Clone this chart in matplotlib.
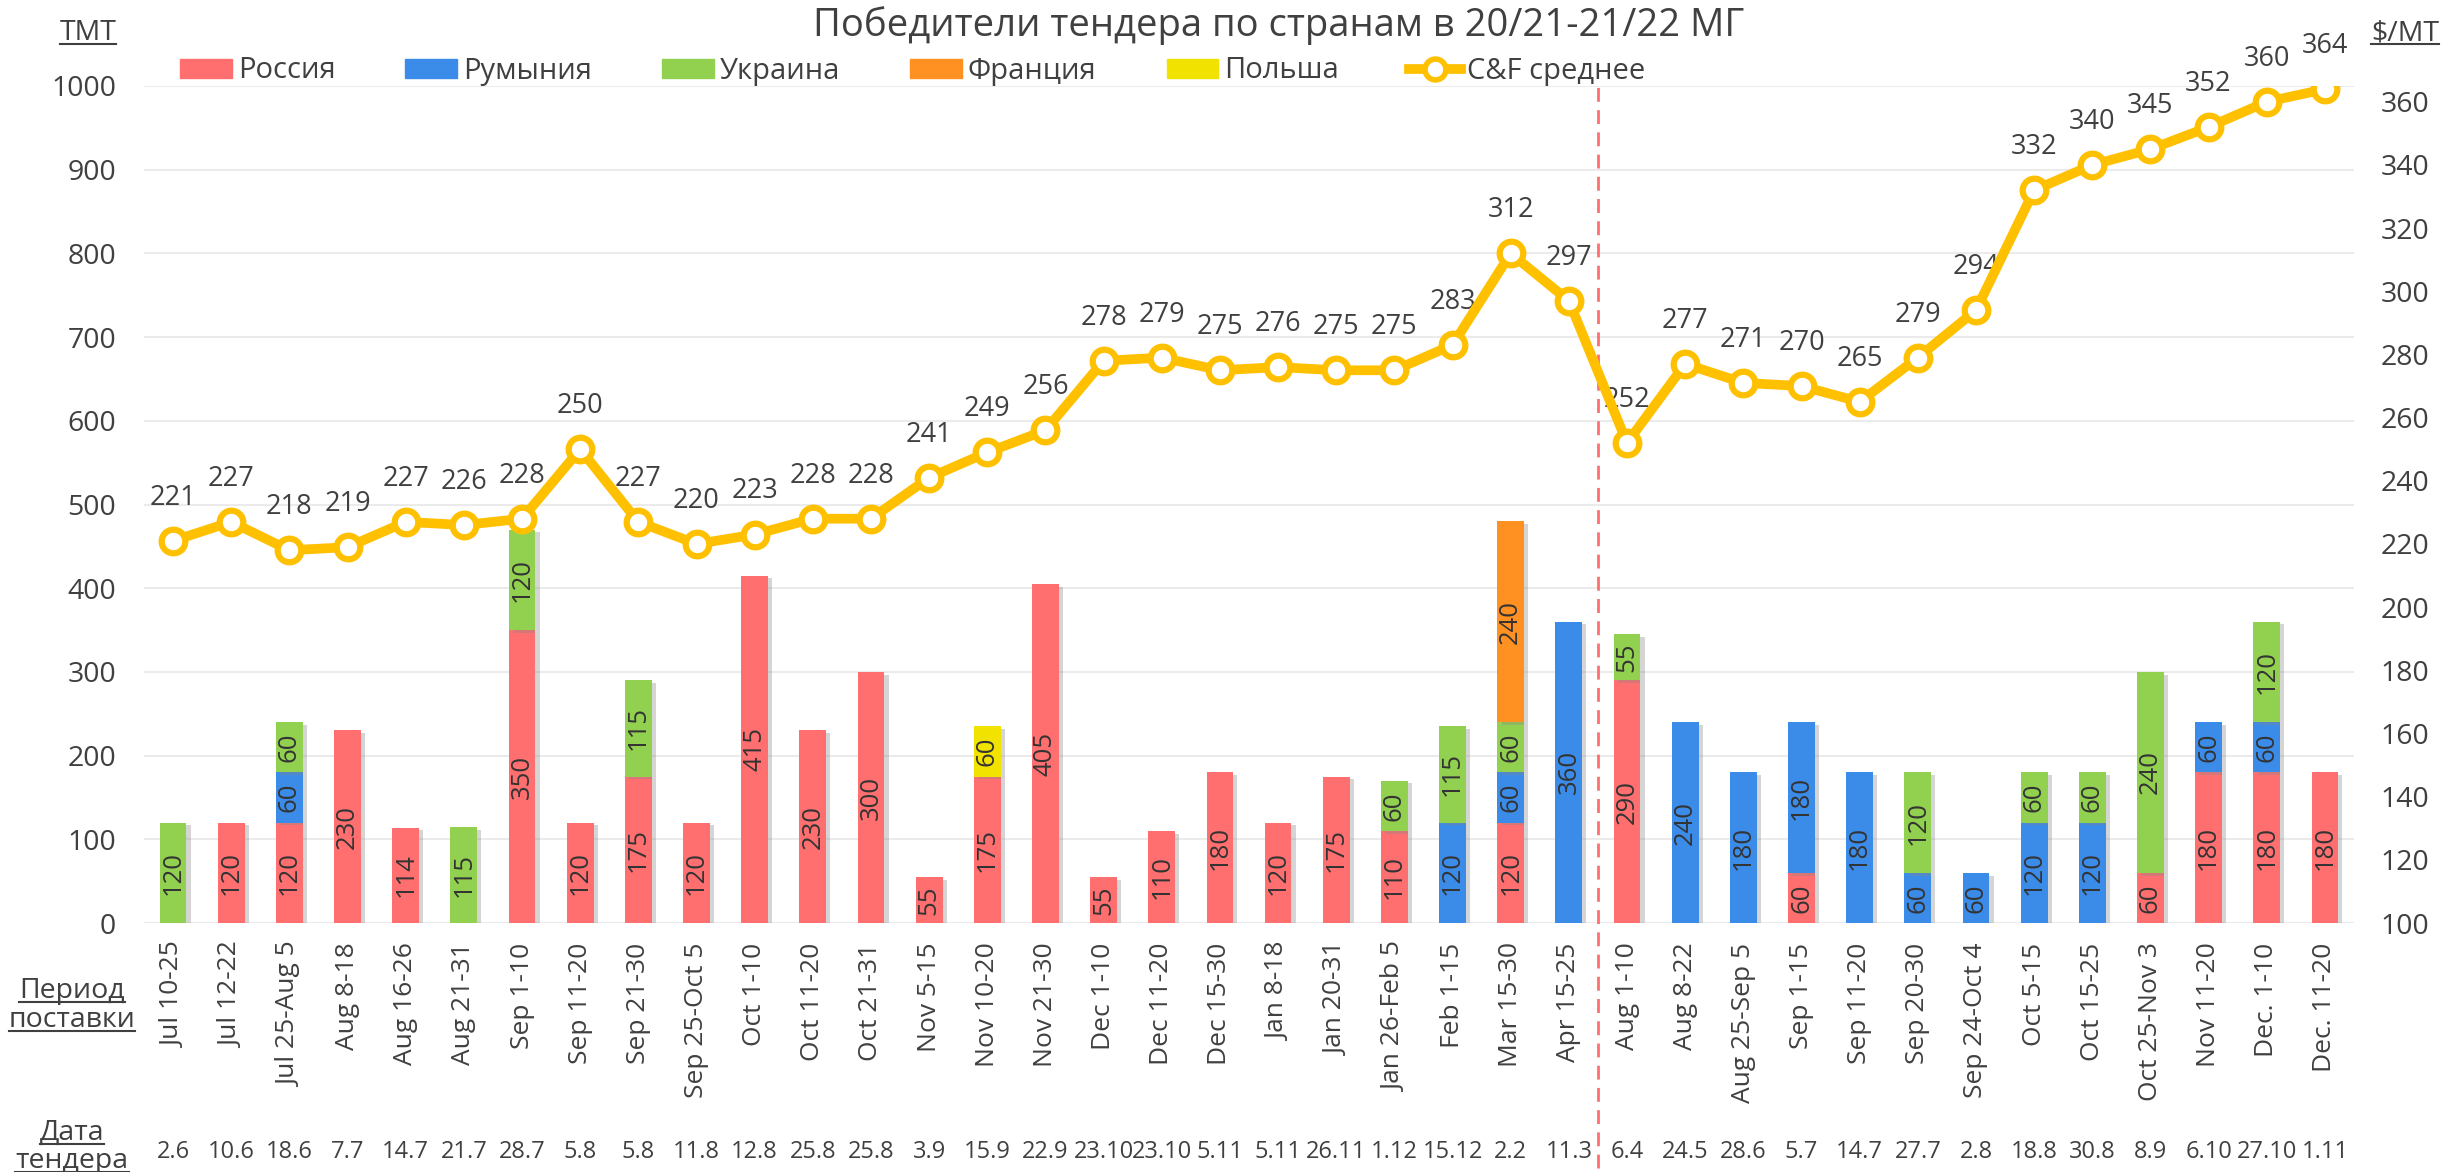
import numpy as np
import matplotlib
matplotlib.use("Agg")
import matplotlib.pyplot as plt
import matplotlib.transforms as mtransforms
from matplotlib.lines import Line2D
from matplotlib.patches import Patch
import matplotlib.patheffects as pe

plt.rcParams['font.family'] = ['Open Sans', 'DejaVu Sans']

# --- data ---
periods = ["Jul 10-25", "Jul 12-22", "Jul 25-Aug 5", "Aug 8-18", "Aug 16-26", "Aug 21-31",
           "Sep 1-10", "Sep 11-20", "Sep 21-30", "Sep 25-Oct 5", "Oct 1-10", "Oct 11-20",
           "Oct 21-31", "Nov 5-15", "Nov 10-20", "Nov 21-30", "Dec 1-10", "Dec 11-20",
           "Dec 15-30", "Jan 8-18", "Jan 20-31", "Jan 26-Feb 5", "Feb 1-15", "Mar 15-30",
           "Apr 15-25", "Aug 1-10", "Aug 8-22", "Aug 25-Sep 5", "Sep 1-15", "Sep 11-20",
           "Sep 20-30", "Sep 24-Oct 4", "Oct 5-15", "Oct 15-25", "Oct 25-Nov 3", "Nov 11-20",
           "Dec. 1-10", "Dec. 11-20"]
tender_dates = ["2.6", "10.6", "18.6", "7.7", "14.7", "21.7", "28.7", "5.8", "5.8", "11.8",
                "12.8", "25.8", "25.8", "3.9", "15.9", "22.9", "23.10", "23.10", "5.11", "5.11",
                "26.11", "1.12", "15.12", "2.2", "11.3", "6.4", "24.5", "28.6", "5.7", "14.7",
                "27.7", "2.8", "18.8", "30.8", "8.9", "6.10", "27.10", "1.11"]

russia = [0, 120, 120, 230, 114, 0, 350, 120, 175, 120, 415, 230, 300, 55, 175, 405, 55, 110,
          180, 120, 175, 110, 0, 120, 0, 290, 0, 0, 60, 0, 0, 0, 0, 0, 60, 180, 180, 180]
romania = [0, 0, 60, 0, 0, 0, 0, 0, 0, 0, 0, 0, 0, 0, 0, 0, 0, 0,
           0, 0, 0, 0, 120, 60, 360, 0, 240, 180, 180, 180, 60, 60, 120, 120, 0, 60, 60, 0]
ukraine = [120, 0, 60, 0, 0, 115, 120, 0, 115, 0, 0, 0, 0, 0, 0, 0, 0, 0,
           0, 0, 0, 60, 115, 60, 0, 55, 0, 0, 0, 0, 120, 0, 60, 60, 240, 0, 120, 0]
france = [0] * 23 + [240] + [0] * 14
poland = [0] * 14 + [60] + [0] * 23

cf_price = [221, 227, 218, 219, 227, 226, 228, 250, 227, 220, 223, 228, 228, 241, 249, 256,
            278, 279, 275, 276, 275, 275, 283, 312, 297, 252, 277, 271, 270, 265, 279, 294,
            332, 340, 345, 352, 360, 364]

series = [("Россия", russia, "#FF6F6F"),
          ("Румыния", romania, "#3B8BE8"),
          ("Украина", ukraine, "#92D050"),
          ("Франция", france, "#FF9122"),
          ("Польша", poland, "#F2E200")]

txt = "#404040"
W, H = 2448, 1172
fig = plt.figure(figsize=(W / 100, H / 100), dpi=100)
ax = fig.add_axes([144 / W, 1 - 923 / H, (2354 - 144) / W, (923 - 86) / H])
ax2 = ax.twinx()

x = np.arange(len(periods))
bottom = np.zeros(len(periods))
shadow = [pe.SimplePatchShadow(offset=(3, -2), shadow_rgbFace="#888888", alpha=0.35), pe.Normal()]
for name, vals, col in series:
    vals = np.array(vals, dtype=float)
    bars = ax.bar(x, vals, 0.46, bottom=bottom, color=col, label=name, zorder=3)
    for b in bars:
        b.set_path_effects(shadow)
    for xi, v, b0 in zip(x, vals, bottom):
        if v > 0:
            ax.text(xi, b0 + v / 2, f"{int(v)}", rotation=90, ha="center", va="center",
                    fontsize=18.5, color="#333333", zorder=4)
    bottom += vals

ax.set_xlim(-0.5, len(periods) - 0.5)
ax.set_ylim(0, 1000)
ax.set_yticks(range(0, 1001, 100))
ax.grid(axis="y", color="#EBEBEB", lw=1.5, zorder=0)
ax.set_axisbelow(True)
ax.set_xticks(x)
ax.set_xticklabels(periods, rotation=90, fontsize=19, color=txt, va="top")
ax.tick_params(axis="x", length=0, pad=14)
ax.tick_params(axis="y", length=0, pad=20, labelsize=20.5, labelcolor=txt)
for s in ax.spines.values():
    s.set_visible(False)

ax2.plot(x, cf_price, color="#FFC000", lw=7, marker="o", ms=17, mfc="white",
         mec="#FFC000", mew=4.5, solid_joinstyle="round", zorder=5)
for xi, v in zip(x, cf_price):
    ax2.annotate(str(v), (xi, v), xytext=(0, 31), textcoords="offset points",
                 ha="center", va="center", fontsize=19.5, color=txt)
ax2.set_ylim(100, 365)
ax2.set_yticks(range(100, 361, 20))
ax2.tick_params(axis="y", length=0, pad=19, labelsize=20.5, labelcolor=txt)
for s in ax2.spines.values():
    s.set_visible(False)

# split between marketing years
ax.axvline(24.5, ymin=-0.293, ymax=1.0, color="#FF6F6F", lw=2, ls=(0, (5, 3)),
           clip_on=False, zorder=2)

# tender dates under the period labels
date_tr = mtransforms.blended_transform_factory(ax.transData, fig.transFigure)
for xi, d in zip(x, tender_dates):
    ax.text(xi, 1 - 1152 / H, d, transform=date_tr, ha="center", va="center",
            fontsize=17, color=txt)

fig.text(1279 / W, 1 - 26 / H, "Победители тендера по странам в 20/21-21/22 МГ",
         ha="center", va="center", fontsize=27.5, color=txt)

handles = [Patch(color=c) for _, _, c in series]
handles.append(Line2D([0], [0], color="#FFC000", lw=7, marker="o", ms=15, mfc="white",
                      mec="#FFC000", mew=4))
labels = [n for n, _, _ in series] + ["C&F среднее"]
fig.legend(handles, labels, loc="center left", bbox_to_anchor=(180 / W, 1 - 71 / H),
           ncol=6, frameon=False, fontsize=21, handlelength=1.78, handleheight=0.62,
           handletextpad=0.2, columnspacing=2.4, borderpad=0, borderaxespad=0,
           labelcolor=txt)

# underlined side captions
under = []
for cx, cy, s in [(88, 40, "ТМТ"), (2405, 40, "$/МТ"),
                  (72, 998, "Период"), (72, 1027, "поставки"),
                  (72, 1140, "Дата"), (72, 1168, "тендера")]:
    under.append(fig.text(cx / W, 1 - cy / H, s, ha="center", va="baseline",
                          fontsize=20.5, color=txt))
fig.canvas.draw()
inv = fig.transFigure.inverted()
for t in under:
    bb = t.get_window_extent()
    yb = t.get_transform().transform(t.get_position())[1] - 4
    (x0, y0), (x1, _) = inv.transform([(bb.x0, yb), (bb.x1, yb)])
    fig.add_artist(Line2D([x0, x1], [y0, y0], transform=fig.transFigure, color=txt, lw=1.5))

fig.savefig("out.png", dpi=100)
